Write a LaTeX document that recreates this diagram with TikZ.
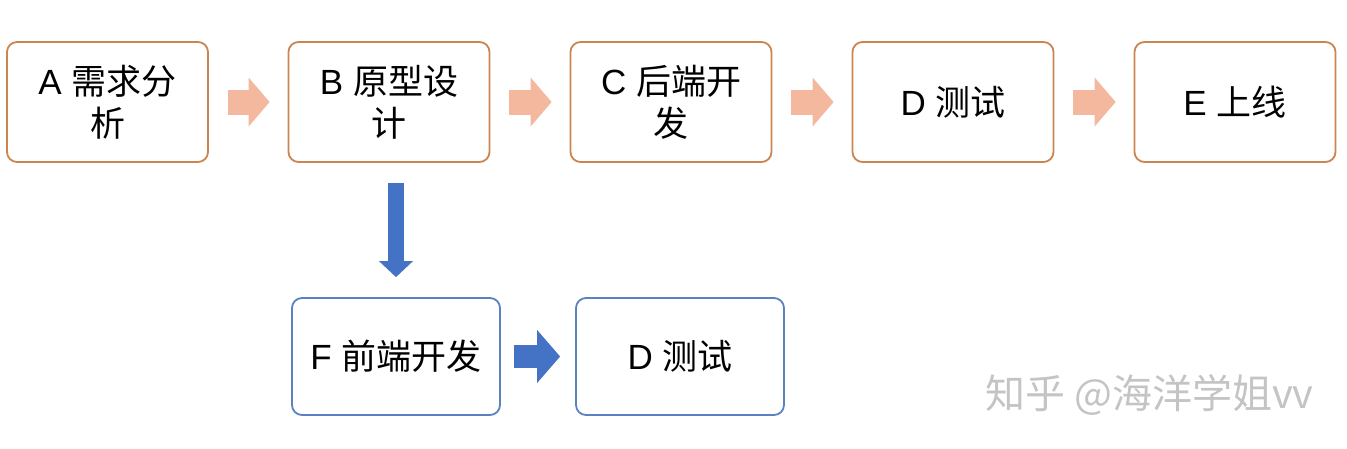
\documentclass[tikz,border=0pt]{standalone}
\usepackage{fontspec}
\setmainfont{Liberation Sans}
\newfontfamily\cjk{Noto Sans CJK SC}
\usetikzlibrary{arrows.meta,calc}
\definecolor{oborder}{HTML}{CC8550}
\definecolor{ofill}{HTML}{F4B89E}
\definecolor{bborder}{HTML}{5A82C2}
\definecolor{bfill}{HTML}{4472C4}
\definecolor{wm}{HTML}{C4C4C4}
\tikzset{
  obox/.style={draw=oborder, line width=1.8pt, rounded corners=10pt, minimum width=201pt, minimum height=120pt, align=center, inner sep=0pt, font=\fontsize{35pt}{42pt}\selectfont},
  bbox/.style={obox, draw=bborder, minimum width=208pt, minimum height=117pt},
  oarrow/.style={draw=ofill, line width=25pt, -{Triangle[length=21pt, width=49pt, line width=0pt]}},
  barrowv/.style={draw=bfill, line width=16pt, -{Triangle[length=16pt, width=34pt, line width=0pt]}},
  barrowh/.style={draw=bfill, line width=23pt, -{Triangle[length=23pt, width=53pt, line width=0pt]}},
}
\begin{document}
\begin{tikzpicture}[x=1pt, y=-1pt]
\useasboundingbox (0,0) rectangle (1347,448);
\node[obox] (A) at (107.5,102) {A {\cjk 需求分}\\{\cjk 析}};
\node[obox] (B) at (389,102) {B {\cjk 原型设}\\{\cjk 计}};
\node[obox] (C) at (671,102) {C {\cjk 后端开}\\{\cjk 发}};
\node[obox] (D) at (953,102) {D {\cjk 测试}};
\node[obox] (E) at (1235,102) {E {\cjk 上线}};
\node[bbox] (F) at (396,356.5) {F {\cjk 前端开发}};
\node[bbox] (G) at (680,356.5) {D {\cjk 测试}};
\draw[oarrow, shorten <=19pt, shorten >=18pt] (A.east) -- (B.west);
\draw[oarrow, shorten <=19pt, shorten >=18pt] (B.east) -- (C.west);
\draw[oarrow, shorten <=19pt, shorten >=18pt] (C.east) -- (D.west);
\draw[oarrow, shorten <=19pt, shorten >=18pt] (D.east) -- (E.west);
\draw[barrowv, shorten <=20pt, shorten >=20pt] (B.south -| F.north) -- (F.north);
\draw[barrowh, shorten <=13pt, shorten >=15pt] (F.east) -- (G.west);
\node[text=wm, font=\cjk\fontsize{40pt}{40pt}\selectfont, anchor=west, inner sep=0pt] (wmk) at (985,395) {知乎 @海洋学姐vv};
\end{tikzpicture}
\end{document}
